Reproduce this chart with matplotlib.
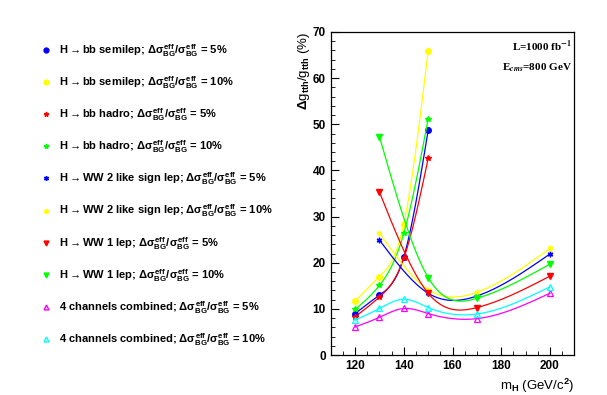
import numpy as np
import matplotlib
matplotlib.use('Agg')
from matplotlib import pyplot as plt
from matplotlib.lines import Line2D
from matplotlib.ticker import MultipleLocator

plt.rcParams['font.family'] = ['Liberation Sans', 'DejaVu Sans']
plt.rcParams['font.weight'] = 'bold'
plt.rcParams['mathtext.fontset'] = 'custom'
plt.rcParams['mathtext.rm'] = 'Liberation Sans:bold'
plt.rcParams['mathtext.it'] = 'Liberation Sans:bold'
plt.rcParams['mathtext.bf'] = 'Liberation Sans:bold'

# DATOS
mh_bb = [120, 130, 140, 150]
mh_ww = [130, 150, 170, 200]
mh_all = [120, 130, 140, 150, 170, 200]

bb_semi_5 = [9.0, 13.0, 21.3, 48.7]
bb_semi_10 = [11.7, 17.0, 28.5, 65.9]
bb_had_5 = [8.3, 12.6, 21.0, 42.6]
bb_had_10 = [9.9, 15.1, 26.4, 51.2]
ww2_5 = [24.9, 13.4, 12.8, 21.9]
ww2_10 = [26.4, 14.2, 13.6, 23.1]
ww1_5 = [35.3, 13.4, 10.3, 17.1]
ww1_10 = [47.3, 16.8, 12.3, 19.7]
comb_5 = [6.1, 8.2, 10.1, 9.0, 7.9, 13.4]
comb_10 = [7.6, 10.1, 12.1, 10.3, 8.9, 14.8]

ratio = r'$\Delta\sigma^{eff}_{BG}/\sigma^{eff}_{BG}$'
arrow = r'H$\rightarrow$bb'
arrow_ww = r'H$\rightarrow$WW'
labels = [arrow + ' semilep; ' + ratio + ' = 5%',
          arrow + ' semilep; ' + ratio + ' = 10%',
          arrow + ' hadro; ' + ratio + ' = 5%',
          arrow + ' hadro; ' + ratio + ' = 10%',
          arrow_ww + ' 2 like sign lep; ' + ratio + ' = 5%',
          arrow_ww + ' 2 like sign lep; ' + ratio + ' = 10%',
          arrow_ww + ' 1 lep; ' + ratio + ' = 5%',
          arrow_ww + ' 1 lep; ' + ratio + ' = 10%',
          '4 channels combined; ' + ratio + ' = 5%',
          '4 channels combined; ' + ratio + ' = 10%']

series = [(mh_bb, bb_semi_5, 'blue', 'o', True),
          (mh_bb, bb_semi_10, 'yellow', 'o', True),
          (mh_bb, bb_had_5, 'red', '*', True),
          (mh_bb, bb_had_10, 'lime', '*', True),
          (mh_ww, ww2_5, 'blue', (6, 2, 0), True),
          (mh_ww, ww2_10, 'yellow', (6, 2, 0), True),
          (mh_ww, ww1_5, 'red', 'v', True),
          (mh_ww, ww1_10, 'lime', 'v', True),
          (mh_all, comb_5, 'magenta', '^', False),
          (mh_all, comb_10, 'cyan', '^', False)]


def spline(x, y, n=200):
    # spline cubica natural (como la opcion "C" de ROOT)
    x = np.asarray(x, float)
    y = np.asarray(y, float)
    k = len(x)
    h = np.diff(x)
    A = np.zeros((k, k))
    b = np.zeros(k)
    A[0, 0] = 1
    A[-1, -1] = 1
    for i in range(1, k - 1):
        A[i, i - 1] = h[i - 1]
        A[i, i] = 2 * (h[i - 1] + h[i])
        A[i, i + 1] = h[i]
        b[i] = 6 * ((y[i + 1] - y[i]) / h[i] - (y[i] - y[i - 1]) / h[i - 1])
    M = np.linalg.solve(A, b)
    xs = np.linspace(x[0], x[-1], n)
    ys = np.empty_like(xs)
    for j, xv in enumerate(xs):
        i = min(np.searchsorted(x, xv, side='right') - 1, k - 2)
        t1 = x[i + 1] - xv
        t2 = xv - x[i]
        ys[j] = (M[i] * t1**3 + M[i + 1] * t2**3) / (6 * h[i]) \
            + (y[i] / h[i] - M[i] * h[i] / 6) * t1 \
            + (y[i + 1] / h[i] - M[i + 1] * h[i] / 6) * t2
    return xs, ys


fig = plt.figure(figsize=(6.07, 3.95), dpi=100)
ax = fig.add_axes([0.545, 0.101, 0.401, 0.818])

handles = []
for (x, y, c, m, filled), lab in zip(series, labels):
    xs, ys = spline(x, y)
    ax.plot(xs, ys, color=c, lw=0.9)
    if filled:
        ax.plot(x, y, linestyle='None', marker=m, color=c, ms=4, mew=1)
    else:
        ax.plot(x, y, linestyle='None', marker=m, color=c, ms=4.5, mfc='none', mew=0.9)
    handles.append(Line2D([], [], linestyle='None', marker=m, color=c, ms=3.5,
                          mfc=(c if filled else 'none'), label=lab))

ax.set_xlim(110, 210)
ax.set_ylim(0, 70)
ax.xaxis.set_major_locator(MultipleLocator(20))
ax.xaxis.set_minor_locator(MultipleLocator(5))
ax.yaxis.set_major_locator(MultipleLocator(10))
ax.yaxis.set_minor_locator(MultipleLocator(2))
ax.tick_params(which='both', direction='in', labelsize=8.5, top=False, right=False)
ax.tick_params(which='major', length=6)
ax.tick_params(which='minor', length=3)
for s in ax.spines.values():
    s.set_linewidth(0.9)

ax.set_xlabel(r'm$_{H}$ (GeV/c$^{2}$)', loc='right', fontsize=9.5)
ax.xaxis.set_label_coords(1.0, -0.068)
ax.set_ylabel(r'$\Delta$g$_{tth}$/g$_{tth}$ (%)', loc='top', fontsize=9.5)
ax.yaxis.set_label_coords(-0.078, 1.0)

ax.text(0.99, 0.955, r'L=1000 fb$^{-1}$', transform=ax.transAxes, ha='right',
        va='center', fontsize=8, family='Liberation Serif', math_fontfamily='stix')
ax.text(0.99, 0.89, r'E$_{cms}$=800 GeV', transform=ax.transAxes, ha='right',
        va='center', fontsize=8, family='Liberation Serif', math_fontfamily='stix')

fig.legend(handles=handles, loc='upper left', bbox_to_anchor=(0.06, 0.905),
           frameon=False, fontsize=8, labelspacing=1.38, handlelength=1,
           handletextpad=0.6, borderaxespad=0)

fig.savefig('out.png', dpi=100)
